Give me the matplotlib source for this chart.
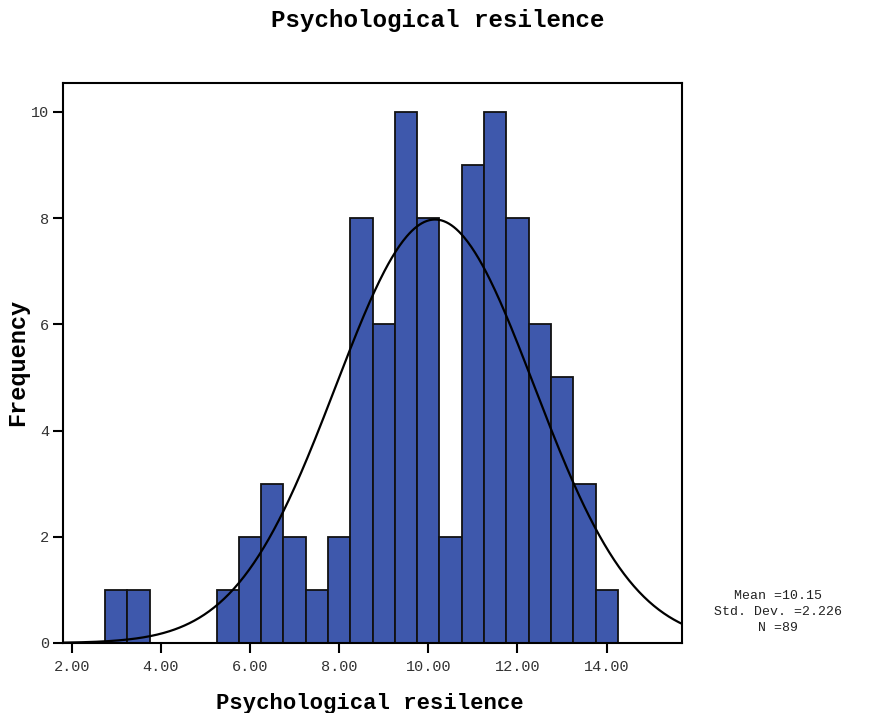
import numpy as np
import matplotlib
matplotlib.use("Agg")
import matplotlib.pyplot as plt

# Data
bin_edges = [2.75, 3.25, 3.75, 4.25, 4.75, 5.25, 5.75, 6.25, 6.75, 7.25, 7.75,
             8.25, 8.75, 9.25, 9.75, 10.25, 10.75, 11.25, 11.75, 12.25, 12.75,
             13.25, 13.75, 14.25]
counts = [1, 1, 0, 0, 0, 1, 2, 3, 2, 1, 2, 8, 6, 10, 8, 2, 9, 10, 8, 6, 5, 3, 1]
mean = 10.15
std = 2.226
n = 89
x_ticks = [2, 4, 6, 8, 10, 12, 14]
x_tick_labels = ["2.00", "4.00", "6.00", "8.00", "10.00", "12.00", "14.00"]
y_ticks = [0, 2, 4, 6, 8, 10]

FONT = "Liberation Mono"

fig = plt.figure(figsize=(8.73, 7.13), dpi=100)
ax = fig.add_axes([63/873, 1-643/713, (682-63)/873, (643-83)/713])

edges = np.array(bin_edges)
widths = np.diff(edges)
for left, w, c in zip(edges[:-1], widths, counts):
    if c > 0:
        ax.bar(left, c, width=w, align="edge", color="#3E58AC",
               edgecolor="#111111", linewidth=1.3, zorder=2)

bw = 0.5
xs = np.linspace(1.8, 15.7, 500)
ys = n * bw / (std * np.sqrt(2*np.pi)) * np.exp(-0.5*((xs-mean)/std)**2)
ax.plot(xs, ys, color="black", linewidth=1.6, zorder=3)

ax.set_xlim(1.805, 15.69)
ax.set_ylim(0, 10.546)
ax.set_xticks(x_ticks)
ax.set_xticklabels(x_tick_labels, fontfamily=FONT, fontsize=11, color="#333333")
ax.set_yticks(y_ticks)
ax.set_yticklabels([str(v) for v in y_ticks], fontfamily=FONT, fontsize=11, color="#333333")
ax.tick_params(axis="both", direction="out", length=7, width=1.5, color="black")
ax.tick_params(axis="x", pad=5)
ax.tick_params(axis="y", pad=3)
for s in ax.spines.values():
    s.set_linewidth(1.5)
    s.set_color("black")

fig.text(370/873, 1-703/713, "Psychological resilence", fontfamily=FONT,
         fontweight="bold", fontsize=16, ha="center", va="center")
fig.text(18/873, 1-362/713, "Frequency", fontfamily=FONT, fontweight="bold",
         fontsize=17, ha="center", va="center", rotation=90)
fig.text(438/873, 1-21/713, "Psychological resilence", fontfamily=FONT,
         fontweight="bold", fontsize=17.4, ha="center", va="center")

fig.text(778/873, 1-612/713, "Mean =%.2f\nStd. Dev. =%.3f\nN =%d" % (mean, std, n),
         fontfamily=FONT, fontsize=9.5, ha="center", va="center",
         multialignment="center", linespacing=1.45, color="#222222")

fig.savefig("out.png", dpi=100)
